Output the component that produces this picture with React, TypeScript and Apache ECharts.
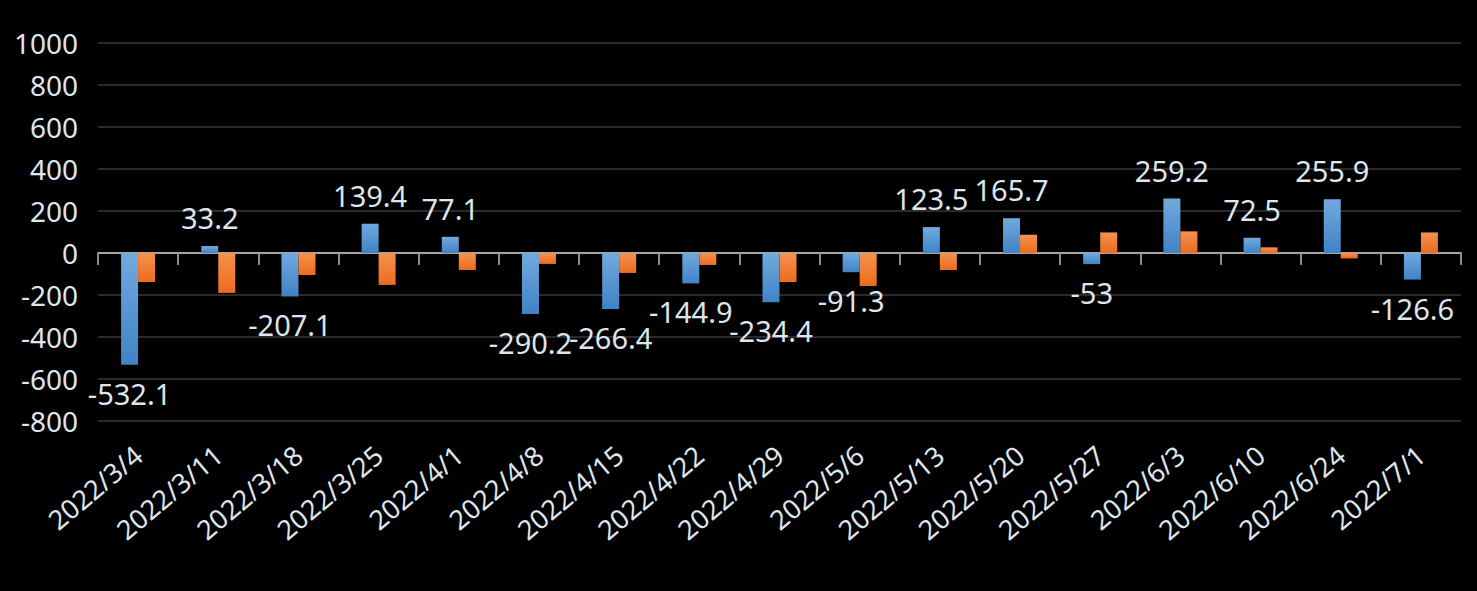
import React, { useEffect, useRef } from "react";
import * as echarts from "echarts";

const categories = [
  "2022/3/4", "2022/3/11", "2022/3/18", "2022/3/25", "2022/4/1", "2022/4/8",
  "2022/4/15", "2022/4/22", "2022/4/29", "2022/5/6", "2022/5/13", "2022/5/20",
  "2022/5/27", "2022/6/3", "2022/6/10", "2022/6/24", "2022/7/1",
];
const blueValues = [
  -532.1, 33.2, -207.1, 139.4, 77.1, -290.2, -266.4, -144.9, -234.4, -91.3,
  123.5, 165.7, -53, 259.2, 72.5, 255.9, -126.6,
];
const orangeValues = [
  -138, -190, -105, -152, -81, -52, -95, -57, -138, -157, -81, 87, 98, 103, 27, -26, 98,
];

const FONT = "'Noto Sans', sans-serif";
const TEXT = "#dfe5ec";

export default function App() {
  const ref = useRef<HTMLDivElement>(null);
  useEffect(() => {
    if (!ref.current) return;
    const chart = echarts.init(ref.current, null, { renderer: "svg" });
    const blueGrad = new echarts.graphic.LinearGradient(0, 0, 0, 1, [
      { offset: 0, color: "#72a9de" },
      { offset: 1, color: "#3f83c5" },
    ]);
    const orangeGrad = new echarts.graphic.LinearGradient(0, 0, 0, 1, [
      { offset: 0, color: "#f5924d" },
      { offset: 1, color: "#ec6b1e" },
    ]);
    chart.setOption({
      animation: false,
      backgroundColor: "#000000",
      grid: { left: 98, right: 16, top: 43, bottom: 170 },
      xAxis: [
        {
          type: "category",
          data: categories,
          axisLine: { onZero: true, lineStyle: { color: "#a6a6a6", width: 2 } },
          axisTick: { show: true, length: 12, lineStyle: { color: "#8c8c8c", width: 2 } },
          axisLabel: { show: false },
          splitLine: { show: false },
        },
        {
          type: "category",
          data: categories,
          position: "bottom",
          axisLine: { show: false, onZero: false },
          axisTick: { show: false },
          axisLabel: {
            show: true,
            rotate: 40,
            margin: 30,
            interval: 0,
            color: TEXT,
            fontSize: 27,
            fontFamily: FONT,
          },
        },
      ],
      yAxis: {
        type: "value",
        min: -800,
        max: 1000,
        interval: 200,
        axisLine: { show: false },
        axisTick: { show: false },
        axisLabel: {
          color: TEXT,
          fontSize: 28,
          fontFamily: FONT,
          margin: 20,
          formatter: (v: number) => String(v),
        },
        splitLine: { lineStyle: { color: "#2b2b2b", width: 2 } },
      },
      series: [
        {
          type: "bar",
          xAxisIndex: 0,
          barWidth: 17,
          barGap: "0%",
          itemStyle: { color: blueGrad },
          data: blueValues.map((v) => ({
            value: v,
            label: {
              show: true,
              position: v >= 0 ? "top" : "bottom",
              distance: 14,
              color: TEXT,
              fontSize: 29,
              fontFamily: FONT,
            },
          })),
        },
        {
          type: "bar",
          xAxisIndex: 0,
          barWidth: 17,
          barGap: "0%",
          itemStyle: { color: orangeGrad },
          data: orangeValues,
        },
      ],
    });
    return () => chart.dispose();
  }, []);
  return (
    <div
      ref={ref}
      style={{ position: "fixed", left: 0, top: 0, width: 1477, height: 591 }}
    />
  );
}
